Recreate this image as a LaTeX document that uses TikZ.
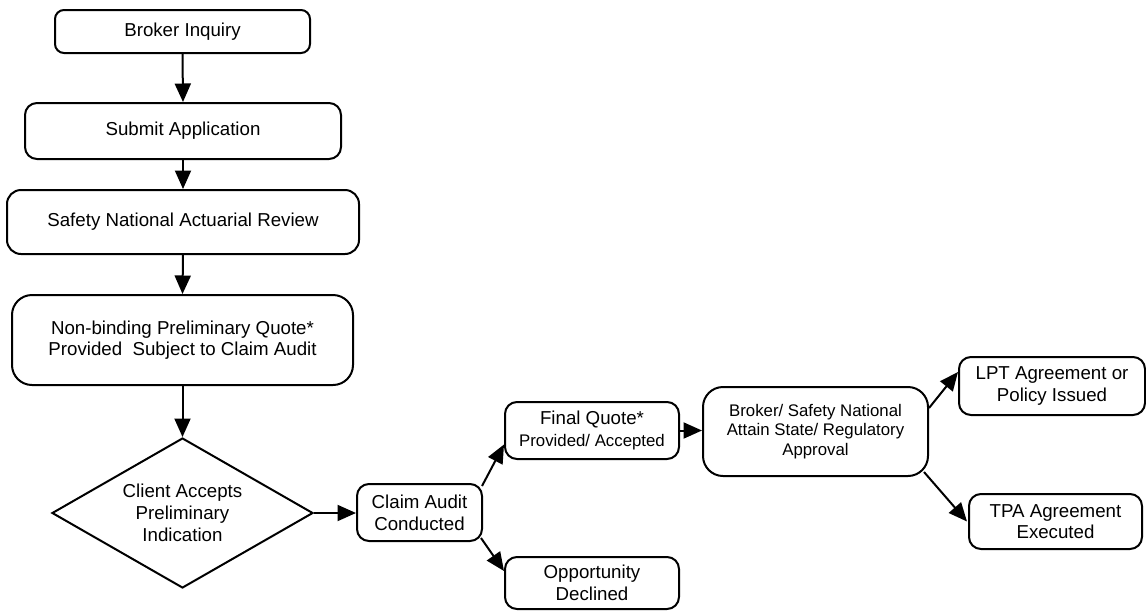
\documentclass[tikz,border=0pt]{standalone}
\usepackage{fontspec}
\setmainfont{Liberation Sans}
\usetikzlibrary{shapes.geometric,arrows.meta,calc}
\begin{document}
\begin{tikzpicture}[x=1pt,y=-1pt,
  box/.style={draw, line width=2pt, rounded corners=#1, align=center, inner sep=0pt,
    font=\fontsize{18.7}{21.5}\selectfont},
  box/.default=12pt,
  arr/.style={line width=2pt, -{Triangle[length=18.5pt,width=16pt]}}]
\useasboundingbox (0,0) rectangle (1146,611);
\node[box=9pt, minimum width=255pt, minimum height=43pt] (bi) at (182.5,31.5) {Broker Inquiry};
\node[box=12pt, minimum width=316pt, minimum height=56pt] (sa) at (183,131) {Submit Application};
\node[box=14pt, minimum width=352pt, minimum height=64pt] (sr) at (183,222) {Safety National Actuarial Review};
\node[box=20pt, minimum width=341pt, minimum height=90pt] (nb) at (182.5,340) {Non-binding Preliminary Quote*\\Provided\ \ Subject to Claim Audit};
\node[draw, line width=2pt, shape=diamond, aspect=1.74, minimum width=261pt, minimum height=150pt,
  inner sep=0pt, align=center, font=\fontsize{18.7}{21.7}\selectfont] (dm) at (182.5,513) {Client Accepts\\Preliminary\\Indication};
\node[box=12pt, minimum width=125pt, minimum height=57pt, font=\fontsize{18.7}{21.7}\selectfont] (ca) at (419.5,512.5) {Claim Audit\\Conducted};
\node[box=12pt, minimum width=174pt, minimum height=57pt, font=\fontsize{18.7}{21.7}\selectfont] (fq) at (592,430.5) {Final Quote*\\{\fontsize{16.8}{21.7}\selectfont Provided/ Accepted}};
\node[box=12pt, minimum width=174pt, minimum height=52pt, font=\fontsize{18.7}{21.7}\selectfont] (od) at (592,583) {Opportunity\\Declined};
\node[box=20pt, minimum width=225pt, minimum height=89pt, font=\fontsize{16.8}{19.8}\selectfont] (bs) at (815.5,431.5) {Broker/ Safety National\\Attain State/ Regulatory\\Approval};
\node[box=12pt, minimum width=186pt, minimum height=58pt, font=\fontsize{18.7}{21.7}\selectfont] (lpt) at (1052,386) {LPT Agreement or\\Policy Issued};
\node[box=12pt, minimum width=173pt, minimum height=55pt, font=\fontsize{18.7}{21.7}\selectfont] (tpa) at (1055.5,521.5) {TPA Agreement\\Executed};

\draw[arr] (bi.south) -- (sa.north);
\draw[arr] (sa.south) -- (sr.north);
\draw[arr] (sr.south) -- (nb.north);
\draw[arr] (nb.south) -- (dm.north);
\draw[arr] (dm.east) -- (dm.east -| ca.west);
\draw[arr] ($(ca.north east)+(-1,3)$) -- ($(fq.west)+(0,14)$);
\draw[arr] ($(ca.south east)+(-2,-4)$) -- ($(od.west)+(0,-12)$);
\draw[arr] (fq.east) -- (fq.east -| bs.west);
\draw[arr] ($(bs.east)+(0,-23.5)$) -- ($(lpt.west)+(0,-14)$);
\draw[arr] ($(bs.south east)+(-5,-5)$) -- ($(tpa.west)+(-1,0)$);
\end{tikzpicture}
\end{document}
